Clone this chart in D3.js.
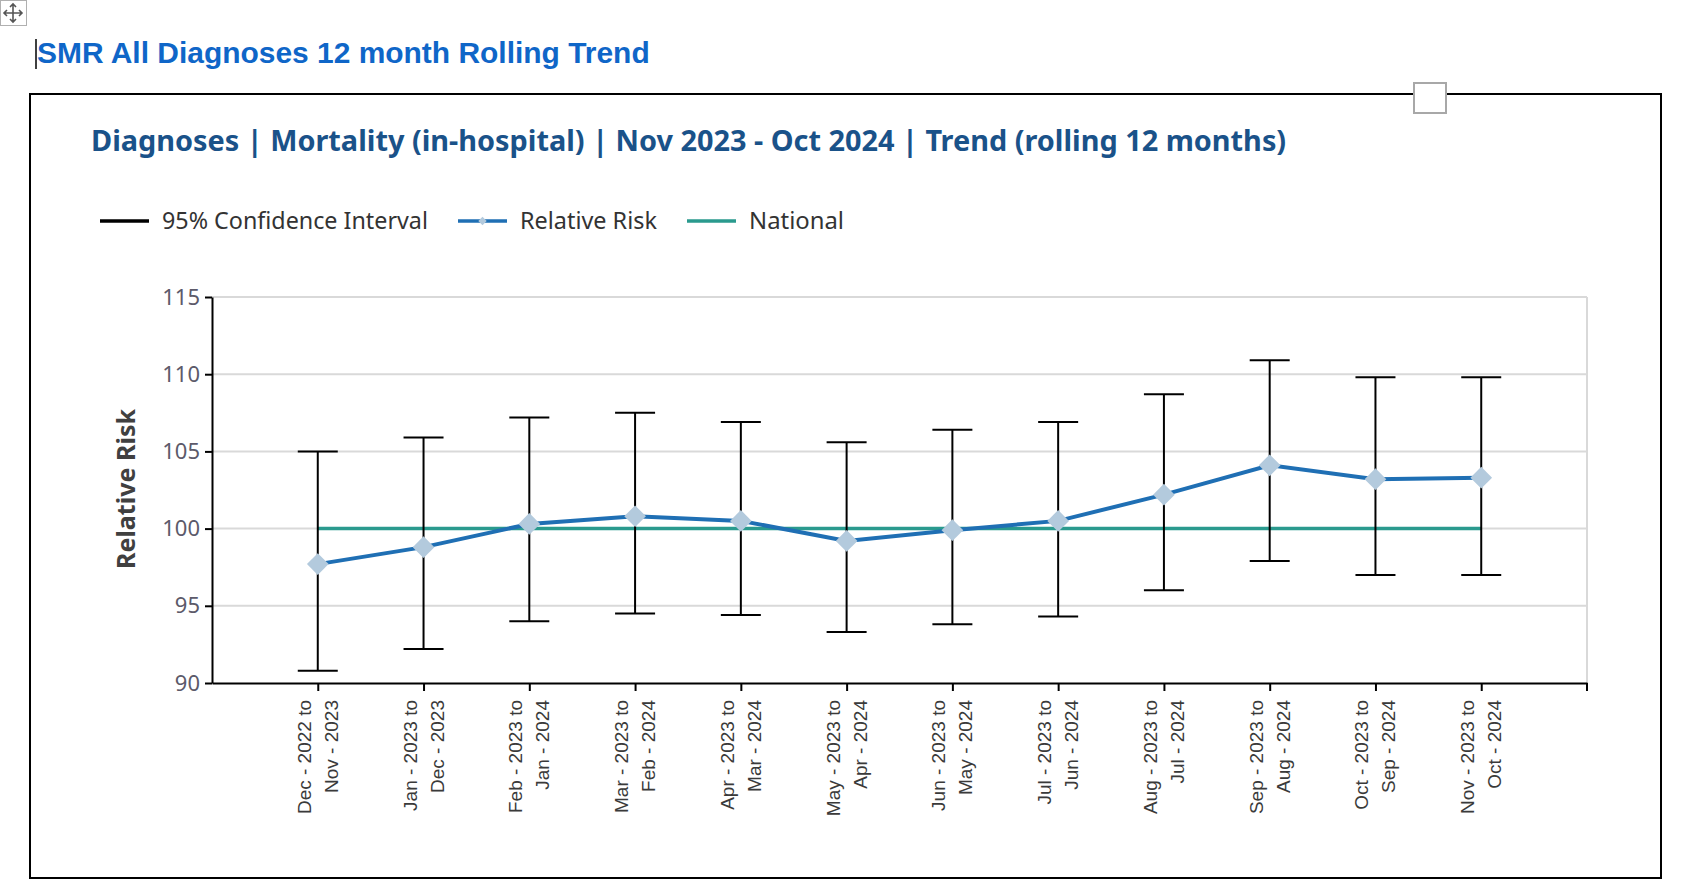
<!DOCTYPE html>
<html>
<head>
<meta charset="utf-8">
<script src="https://cdn.jsdelivr.net/npm/d3@7/dist/d3.min.js"></script>
<style>
  body { margin: 0; background: #fff; }
  svg { display: block; }
</style>
</head>
<body>
<div id="chart-area"></div>
<script>
// rolling 12 month periods (two lines per label)
const periodStart = ["Dec - 2022 to", "Jan - 2023 to", "Feb - 2023 to", "Mar - 2023 to", "Apr - 2023 to", "May - 2023 to",
                     "Jun - 2023 to", "Jul - 2023 to", "Aug - 2023 to", "Sep - 2023 to", "Oct - 2023 to", "Nov - 2023 to"];
const periodEnd = ["Nov - 2023", "Dec - 2023", "Jan - 2024", "Feb - 2024", "Mar - 2024", "Apr - 2024",
                   "May - 2024", "Jun - 2024", "Jul - 2024", "Aug - 2024", "Sep - 2024", "Oct - 2024"];
const relativeRisk = [97.7, 98.8, 100.3, 100.8, 100.5, 99.2, 99.9, 100.5, 102.2, 104.1, 103.2, 103.3];
const upperCI = [105.0, 105.9, 107.2, 107.5, 106.9, 105.6, 106.4, 106.9, 108.7, 110.9, 109.8, 109.8];
const lowerCI = [90.8, 92.2, 94.0, 94.5, 94.4, 93.3, 93.8, 94.3, 96.0, 97.9, 97.0, 97.0];
const nationalValue = 100;
const yTicks = [90, 95, 100, 105, 110, 115];
const legendLabels = ["95% Confidence Interval", "Relative Risk", "National"];

const W = 1694, H = 886;
const margin = { left: 212, right: 107, top: 297, bottom: 203 };
const width = W - margin.left - margin.right, height = H - margin.top - margin.bottom;

const blue = "#1f6fb4", teal = "#2a9a8e", diamondFill = "#b3cadd";
const uiFont = "'Noto Sans', 'Open Sans', sans-serif";

const svg = d3.select("#chart-area")
  .append("svg")
    .attr("width", W)
    .attr("height", H);

// scale text so it spans a given width
function fitText(sel, target) {
  const len = sel.node().getComputedTextLength();
  const fs = parseFloat(sel.attr("font-size"));
  sel.attr("font-size", (fs * target / len).toFixed(2) + "px");
}

// move handle (top left)
svg.append("rect")
  .attr("x", 0.5).attr("y", 0.5).attr("width", 26).attr("height", 25)
  .attr("fill", "#fff").attr("stroke", "#b0b0b0");
svg.append("path")
  .attr("d", "M13 4 L13 22 M4 13 L22 13 M10 7 L13 4 L16 7 M10 19 L13 22 L16 19 M7 10 L4 13 L7 16 M19 10 L22 13 L19 16")
  .attr("fill", "none").attr("stroke", "#555").attr("stroke-width", 1.6);

// page heading + text cursor
const heading = svg.append("text")
  .attr("x", 37)
  .attr("y", 63)
  .attr("font-family", "'Liberation Sans', Arial, sans-serif")
  .attr("font-weight", "bold")
  .attr("font-size", "30px")
  .attr("fill", "#0f66c8")
  .text("SMR All Diagnoses 12 month Rolling Trend");
fitText(heading, 613);
svg.append("line")
  .attr("x1", 36).attr("x2", 36).attr("y1", 39).attr("y2", 69)
  .attr("stroke", "#000").attr("stroke-width", 1.5);

// chart frame
svg.append("rect")
  .attr("x", 30).attr("y", 94).attr("width", 1631).attr("height", 784)
  .attr("fill", "none").attr("stroke", "#000").attr("stroke-width", 2);
svg.append("rect")
  .attr("x", 1414).attr("y", 83).attr("width", 32).attr("height", 30)
  .attr("fill", "#fff").attr("stroke", "#a8a8a8").attr("stroke-width", 2);

// chart title
const title = svg.append("text")
  .attr("x", 91)
  .attr("y", 151)
  .attr("font-family", uiFont)
  .attr("font-weight", "bold")
  .attr("font-size", "25px")
  .attr("fill", "#1a5289")
  .text("Diagnoses | Mortality (in-hospital) | Nov 2023 - Oct 2024 | Trend (rolling 12 months)");
fitText(title, 1195);

// Legend
const legend = svg.append("g").attr("transform", "translate(100,221)");
const legendColors = ["#000", blue, teal];
const legendWidths = [266, 137, 95];
let lx = 0;
legendLabels.forEach((label, i) => {
  legend.append("line")
    .attr("x1", lx).attr("x2", lx + 49).attr("y1", 0).attr("y2", 0)
    .attr("stroke", legendColors[i]).attr("stroke-width", 3.5);
  if (i === 1) {
    legend.append("path")
      .attr("transform", "translate(" + (lx + 24.5) + ",0)")
      .attr("d", d3.symbol(d3.symbolDiamond2, 45)())
      .attr("fill", diamondFill);
  }
  const t = legend.append("text")
    .attr("x", lx + 62)
    .attr("y", 8)
    .attr("font-family", uiFont)
    .attr("font-size", "22px")
    .attr("fill", "#333")
    .text(label);
  fitText(t, legendWidths[i]);
  lx += 62 + legendWidths[i] + 30;
});

const g = svg.append("g")
  .attr("transform", "translate(" + margin.left + "," + margin.top + ")");

// scales
const x = d3.scalePoint()
  .domain(d3.range(periodStart.length))
  .range([0, width])
  .padding(1);

const y = d3.scaleLinear()
  .domain([90, 115])
  .range([height, 0]);

// grid
g.append("g")
  .selectAll("line")
  .data(yTicks.slice(1))
  .enter().append("line")
    .attr("x1", 0).attr("x2", width)
    .attr("y1", d => y(d)).attr("y2", d => y(d))
    .attr("stroke", "#d9d9d9").attr("stroke-width", 2);
g.append("line")
  .attr("x1", width).attr("x2", width)
  .attr("y1", 0).attr("y2", height)
  .attr("stroke", "#d9d9d9").attr("stroke-width", 2);

// y axis
const yaxis = d3.axisLeft(y)
  .tickValues(yTicks)
  .tickSize(7)
  .tickPadding(5)
  .tickSizeOuter(0);
const yAxisG = g.append("g")
  .attr("class", "y axis")
  .call(yaxis);
yAxisG.select(".domain").attr("stroke", "#000").attr("stroke-width", 2);
yAxisG.selectAll(".tick line").attr("stroke", "#000").attr("stroke-width", 2);
yAxisG.selectAll(".tick text")
  .attr("font-family", uiFont)
  .attr("font-size", "22px")
  .attr("fill", "#5c5a6a");

const ylabel = g.append("text")
  .attr("transform", "rotate(-90)")
  .attr("x", -192)
  .attr("y", -77)
  .attr("text-anchor", "middle")
  .attr("font-family", uiFont)
  .attr("font-weight", "bold")
  .attr("font-size", "22px")
  .attr("fill", "#404040")
  .text("Relative Risk");
fitText(ylabel, 160);

// x axis
const xaxis = d3.axisBottom(x)
  .tickSize(8)
  .tickSizeOuter(0)
  .tickFormat("");
const xAxisG = g.append("g")
  .attr("class", "x axis")
  .attr("transform", "translate(0," + height + ")")
  .call(xaxis);
xAxisG.select(".domain").attr("stroke", "#000").attr("stroke-width", 2);
xAxisG.selectAll(".tick line").attr("stroke", "#000").attr("stroke-width", 2);
xAxisG.append("line")
  .attr("x1", x.range()[1]).attr("x2", x.range()[1])
  .attr("y1", 0).attr("y2", 8)
  .attr("stroke", "#000").attr("stroke-width", 2);

// x labels, rotated, two lines
const xl = g.append("g")
  .selectAll("g")
  .data(d3.range(periodStart.length))
  .enter().append("g")
    .attr("transform", d => "translate(" + x(d) + "," + (height + 17) + ") rotate(-90)");
xl.append("text")
  .attr("text-anchor", "end")
  .attr("x", 0)
  .attr("y", -7)
  .attr("font-family", "'Liberation Sans', Arial, sans-serif")
  .attr("font-size", "19px")
  .attr("fill", "#3a3a3a")
  .text(d => periodStart[d]);
xl.append("text")
  .attr("text-anchor", "end")
  .attr("x", 0)
  .attr("y", 20)
  .attr("font-family", "'Liberation Sans', Arial, sans-serif")
  .attr("font-size", "19px")
  .attr("fill", "#3a3a3a")
  .text(d => periodEnd[d]);

// national line
const nationalLine = d3.line()
  .x(d => x(d))
  .y(() => y(nationalValue));
g.append("path")
  .datum(d3.range(periodStart.length))
  .attr("d", nationalLine)
  .attr("fill", "none")
  .attr("stroke", teal)
  .attr("stroke-width", 3.5);

// relative risk line
const rrLine = d3.line()
  .x((d, i) => x(i))
  .y(d => y(d));
g.append("path")
  .datum(relativeRisk)
  .attr("d", rrLine)
  .attr("fill", "none")
  .attr("stroke", blue)
  .attr("stroke-width", 4);

// confidence interval bars
const cap = 20;
const bars = g.append("g")
  .selectAll("g")
  .data(d3.range(periodStart.length))
  .enter().append("g")
    .attr("stroke", "#000")
    .attr("stroke-width", 2);
bars.append("line")
  .attr("x1", d => x(d)).attr("x2", d => x(d))
  .attr("y1", d => y(upperCI[d])).attr("y2", d => y(lowerCI[d]));
bars.append("line")
  .attr("x1", d => x(d) - cap).attr("x2", d => x(d) + cap)
  .attr("y1", d => y(upperCI[d])).attr("y2", d => y(upperCI[d]));
bars.append("line")
  .attr("x1", d => x(d) - cap).attr("x2", d => x(d) + cap)
  .attr("y1", d => y(lowerCI[d])).attr("y2", d => y(lowerCI[d]));

// diamonds
g.append("g")
  .selectAll("path")
  .data(relativeRisk)
  .enter().append("path")
    .attr("transform", (d, i) => "translate(" + x(i) + "," + y(d) + ")")
    .attr("d", d3.symbol(d3.symbolDiamond2, 300)())
    .attr("fill", diamondFill);
</script>
</body>
</html>
